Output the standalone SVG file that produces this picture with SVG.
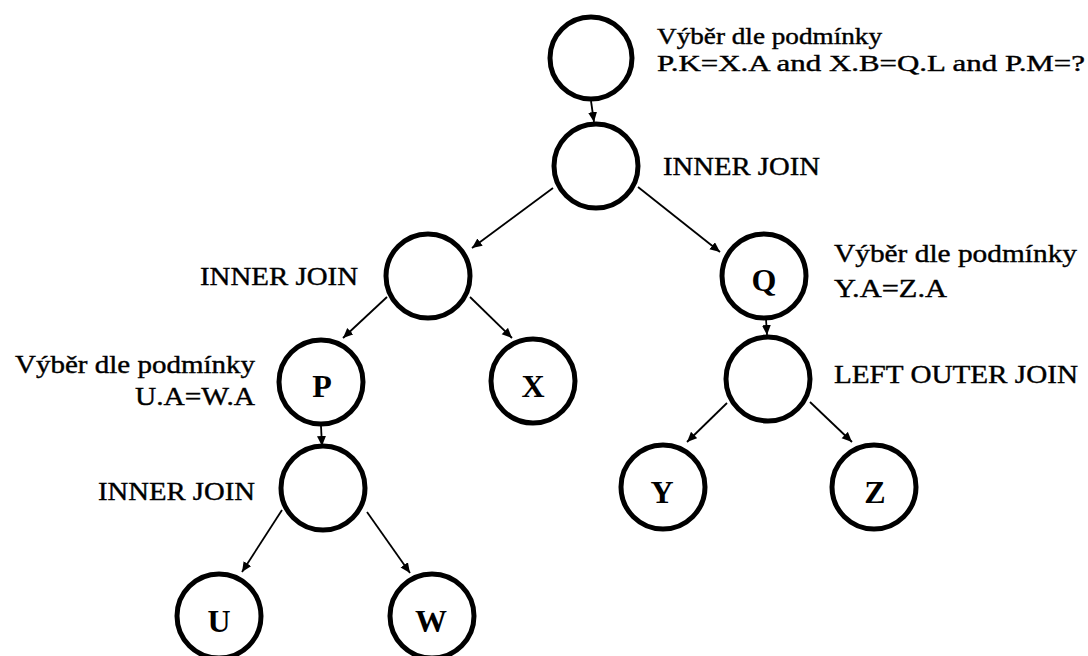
<svg xmlns="http://www.w3.org/2000/svg" width="1088" height="656" viewBox="0 0 1088 656">
<style>
.node{fill:#fff;stroke:#000;stroke-width:5}
.lbl{font-family:"Liberation Serif",serif;font-size:26px;fill:#000;stroke:#000;stroke-width:0.4}
.sm{font-size:23px}
.let{font-family:"Liberation Serif",serif;font-size:32px;font-weight:bold;fill:#000;text-anchor:middle}
.edge{stroke:#000;stroke-width:1.8;fill:none;marker-end:url(#ah)}
</style>
<defs>
<marker id="ah" markerUnits="userSpaceOnUse" markerWidth="11" markerHeight="10" refX="10" refY="4.5" orient="auto">
<path d="M0,0 L10,4.5 L0,9 z" fill="#000"/>
</marker>
</defs>
<rect width="1088" height="656" fill="#fff"/>
<g id="connectors">
<line class="edge" x1="591" y1="101" x2="594" y2="122"/>
<line class="edge" x1="553" y1="188" x2="472" y2="248"/>
<line class="edge" x1="638" y1="187" x2="720" y2="252"/>
<line class="edge" x1="387" y1="297" x2="343" y2="338"/>
<line class="edge" x1="470" y1="297" x2="512" y2="338"/>
<line class="edge" x1="321" y1="426" x2="322" y2="446"/>
<line class="edge" x1="766" y1="319" x2="767" y2="335"/>
<line class="edge" x1="727" y1="403" x2="687" y2="442"/>
<line class="edge" x1="810" y1="402" x2="852" y2="442"/>
<line class="edge" x1="282" y1="510" x2="242" y2="572"/>
<line class="edge" x1="367" y1="512" x2="410" y2="573"/>
</g>
<g id="n1"><circle class="node" cx="591" cy="58" r="41"/>
<text class="lbl sm" x="657" y="44" textLength="225" lengthAdjust="spacingAndGlyphs">Výběr dle podmínky</text>
<text class="lbl sm" x="657" y="71" textLength="428" lengthAdjust="spacingAndGlyphs">P.K=X.A and X.B=Q.L and P.M=?</text></g>
<g id="n2"><circle class="node" cx="596" cy="166" r="42"/>
<text class="lbl" x="663" y="175" textLength="157" lengthAdjust="spacingAndGlyphs">INNER JOIN</text></g>
<g id="n3"><circle class="node" cx="428" cy="276" r="42"/>
<text class="lbl" x="200" y="285" textLength="158" lengthAdjust="spacingAndGlyphs">INNER JOIN</text></g>
<g id="n4"><circle class="node" cx="764" cy="276" r="42"/>
<text class="let" x="764" y="291">Q</text>
<text class="lbl" x="834" y="262" textLength="243" lengthAdjust="spacingAndGlyphs">Výběr dle podmínky</text>
<text class="lbl" x="834" y="297" textLength="113" lengthAdjust="spacingAndGlyphs">Y.A=Z.A</text></g>
<g id="n5"><circle class="node" cx="321" cy="382" r="42"/>
<text class="let" x="322" y="397">P</text>
<text class="lbl" x="15" y="373" textLength="240" lengthAdjust="spacingAndGlyphs">Výběr dle podmínky</text>
<text class="lbl" x="135" y="405" textLength="120" lengthAdjust="spacingAndGlyphs">U.A=W.A</text></g>
<g id="n6"><circle class="node" cx="533" cy="381" r="42"/>
<text class="let" x="533" y="397">X</text></g>
<g id="n7"><circle class="node" cx="768" cy="379" r="42"/>
<text class="lbl" x="834" y="383" textLength="244" lengthAdjust="spacingAndGlyphs">LEFT OUTER JOIN</text></g>
<g id="n8"><circle class="node" cx="323" cy="488" r="42"/>
<text class="lbl" x="98" y="500" textLength="157" lengthAdjust="spacingAndGlyphs">INNER JOIN</text></g>
<g id="n9"><circle class="node" cx="663" cy="487" r="42"/>
<text class="let" x="662" y="503">Y</text></g>
<g id="n10"><circle class="node" cx="874" cy="487" r="42"/>
<text class="let" x="875" y="503">Z</text></g>
<g id="n11"><circle class="node" cx="219" cy="616" r="42"/>
<text class="let" x="219" y="632">U</text></g>
<g id="n12"><circle class="node" cx="432" cy="616" r="42"/>
<text class="let" x="431" y="632">W</text></g>
</svg>
